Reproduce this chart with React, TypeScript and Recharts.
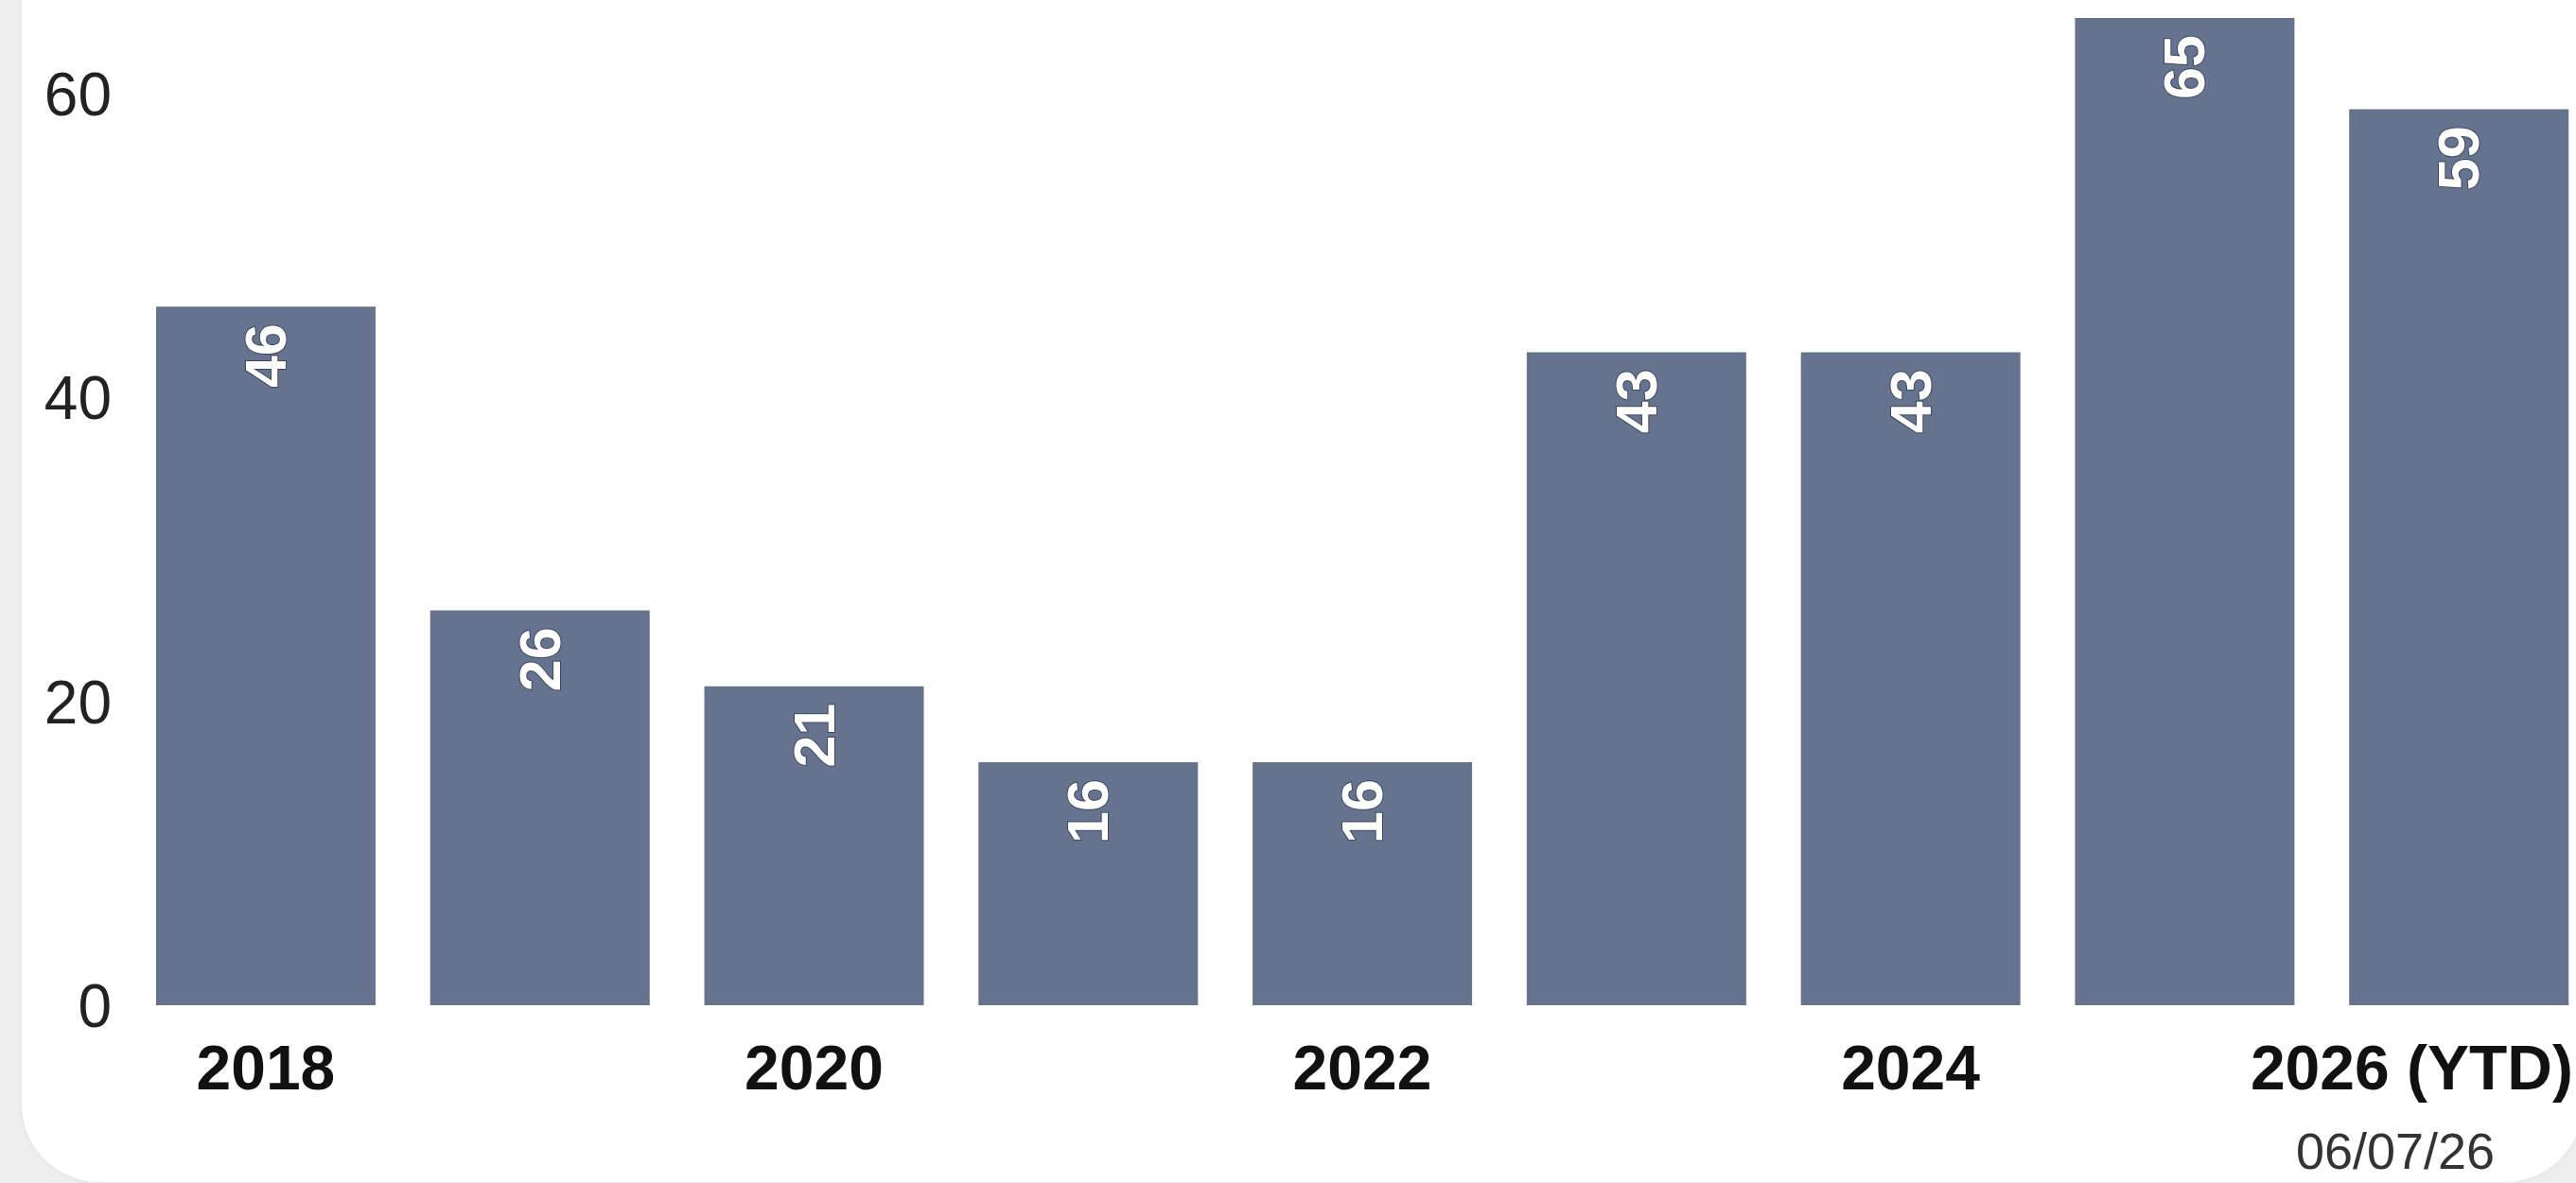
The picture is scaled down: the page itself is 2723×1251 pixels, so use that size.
import React from "react";
import { BarChart, Bar, XAxis, YAxis, LabelList } from "recharts";

const years = ["2018", "2019", "2020", "2021", "2022", "2023", "2024", "2025", "2026 (YTD)"];
const counts = [46, 26, 21, 16, 16, 43, 43, 65, 59];
const yTicks = [0, 20, 40, 60];
const dateNote = "06/07/26";

const data = years.map((year, i) => ({ year, count: counts[i] }));

const VIEW_W = 2723;
const VIEW_H = 1251;
const FONT = "'Liberation Sans', Arial, Helvetica, sans-serif";
const BAR_COLOR = "#65738f";

function YearTick(props: any) {
  const { x, y, payload, index, visibleTicksCount } = props;
  const last = index === visibleTicksCount - 1;
  // last label is pushed left so it stays inside the chart, like the original
  const tx = last ? VIEW_W - 3 : x;
  return (
    <text
      x={tx}
      y={y}
      dy="0.71em"
      textAnchor={last ? "end" : "middle"}
      fill="#111"
      fontSize={66}
      fontWeight="bold"
      fontFamily={FONT}
    >
      {payload.value}
    </text>
  );
}

function BarValue(props: any) {
  const { x, y, width, value } = props;
  const cx = x + width / 2;
  const cy = y + 18;
  return (
    <text
      x={cx}
      y={cy}
      transform={`rotate(-90 ${cx} ${cy})`}
      textAnchor="end"
      dominantBaseline="central"
      fill="#fff"
      stroke="#3c4863"
      strokeWidth={2}
      paintOrder="stroke"
      fontSize={61}
      fontWeight="bold"
      fontFamily={FONT}
    >
      {value}
    </text>
  );
}

export default function App() {
  return (
    <div
      style={{
        position: "fixed",
        left: 0,
        top: 0,
        width: VIEW_W,
        height: VIEW_H,
        overflow: "hidden",
        background: "#eeeeee",
        fontFamily: FONT,
      }}
    >
      <div
        style={{
          position: "absolute",
          left: 23,
          top: -120,
          width: 2707,
          height: 1370,
          background: "#fff",
          borderRadius: 82,
          boxShadow: "0 0 6px rgba(0,0,0,0.06)",
        }}
      />
      <div style={{ position: "absolute", left: 0, top: 0 }}>
        <BarChart
          width={2744}
          height={VIEW_H}
          data={data}
          margin={{ top: 3, right: 0, bottom: 0, left: 0 }}
          barCategoryGap="10%"
        >
          <XAxis
            dataKey="year"
            axisLine={false}
            tickLine={false}
            tickSize={0}
            tickMargin={42}
            height={188}
            interval={1}
            tick={<YearTick />}
          />
          <YAxis
            domain={[0, 66]}
            ticks={yTicks}
            axisLine={false}
            tickLine={false}
            tickSize={0}
            tickMargin={18}
            width={136}
            tick={{ fill: "#222", fontSize: 64, fontFamily: FONT }}
          />
          <Bar dataKey="count" fill={BAR_COLOR} isAnimationActive={false}>
            <LabelList dataKey="count" content={<BarValue />} />
          </Bar>
        </BarChart>
      </div>
      <svg
        width={VIEW_W}
        height={VIEW_H}
        style={{ position: "absolute", left: 0, top: 0, pointerEvents: "none" }}
      >
        <text
          x={2532}
          y={1236}
          textAnchor="middle"
          fill="#333"
          fontSize={54}
          fontFamily={FONT}
        >
          {dateNote}
        </text>
      </svg>
    </div>
  );
}
